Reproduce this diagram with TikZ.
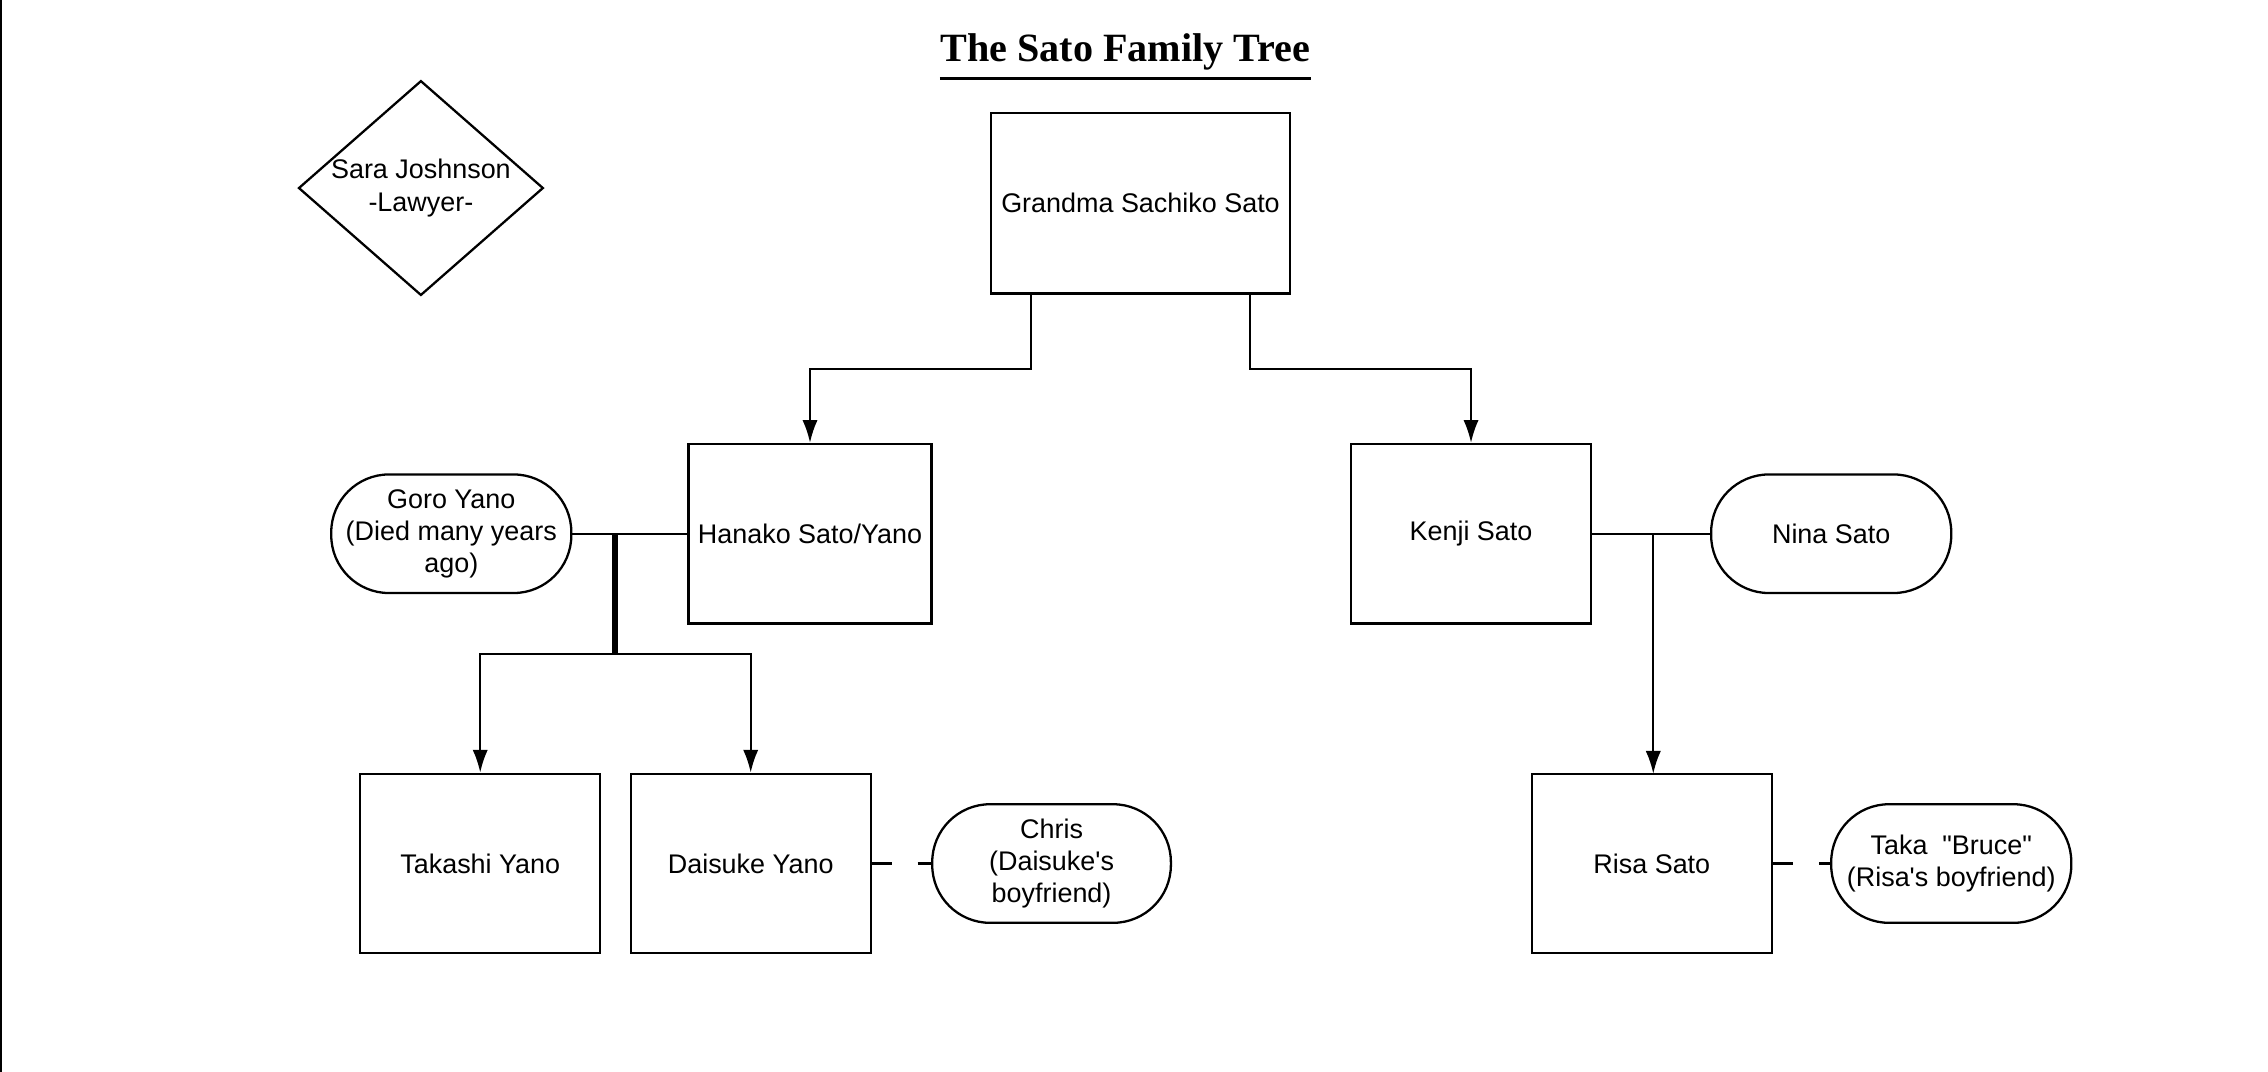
\documentclass[tikz,border=0pt]{standalone}
\usepackage{fontspec}
\setmainfont{Liberation Sans}[Ligatures=TeXOff]
\newfontfamily\titlefont{Liberation Serif}
\usetikzlibrary{shapes.geometric,arrows.meta}
\begin{document}
\begin{tikzpicture}[x=0.02cm,y=-0.02cm,
  font=\fontsize{10.6pt}{12.6pt}\selectfont,
  box/.style={draw,line width=0.9pt,inner sep=0pt,align=center},
  pill/.style={draw,line width=0.9pt,rounded corners=0.8cm,inner sep=0pt,align=center},
  link/.style={line width=0.9pt},
  arr/.style={line width=0.9pt,-{Latex[length=9pt,width=6pt]}},
  dsh/.style={line width=0.9pt,dash pattern=on 8pt off 10pt}]
\useasboundingbox (0,0) rectangle (1568,741);
\draw[line width=0.8pt] (0.5,0) -- (0.5,741);
\node[font=\titlefont\bfseries\fontsize{15.8pt}{18pt}\selectfont,inner sep=0pt] (title) at (778,36) {The Sato Family Tree};
\draw[line width=1.3pt] ([yshift=-3pt]title.south west) -- ([yshift=-3pt]title.south east);
\node[draw,diamond,line width=0.9pt,minimum width=166*0.02cm,minimum height=146*0.02cm,inner sep=0pt,align=center,aspect=1.14] (sara) at (291,130) {Sara Joshnson\\-Lawyer-};
\node[box,minimum width=207*0.02cm,minimum height=125*0.02cm] (gm) at (788.5,140.5) {Grandma Sachiko Sato};
\node[box,minimum width=168*0.02cm,minimum height=124*0.02cm] (han) at (560,369) {Hanako Sato/Yano};
\node[box,minimum width=166*0.02cm,minimum height=124*0.02cm] (ken) at (1017,369) {Kenji Sato};
\node[pill,minimum width=166*0.02cm,minimum height=82*0.02cm] (goro) at (312,369) {Goro Yano\\(Died many years\\ago)};
\node[pill,minimum width=166*0.02cm,minimum height=82*0.02cm] (nina) at (1266,369) {Nina Sato};
\node[box,minimum width=166*0.02cm,minimum height=124*0.02cm] (tak) at (332,597) {Takashi Yano};
\node[box,minimum width=166*0.02cm,minimum height=124*0.02cm] (dai) at (519,597) {Daisuke Yano};
\node[pill,minimum width=165*0.02cm,minimum height=82*0.02cm] (chris) at (727,597) {Chris\\(Daisuke's\\boyfriend)};
\node[box,minimum width=166*0.02cm,minimum height=124*0.02cm] (risa) at (1142,597) {Risa Sato};
\node[pill,minimum width=166*0.02cm,minimum height=82*0.02cm] (taka) at (1349,597) {Taka\ \ "Bruce"\\(Risa's boyfriend)};
\coordinate (gl) at (713,203);
\coordinate (gr) at (864,203);
\draw[arr] (gl) -- (713,255) -| (han.north);
\draw[arr] (gr) -- (864,255) -| (ken.north);
\draw[link] (goro.east) -- (han.west);
\coordinate (gj) at (425,369);
\draw[line width=2.2pt] (gj) -- (425,452);
\draw[arr] (425,452) -| (tak.north);
\draw[arr] (425,452) -| (dai.north);
\draw[link] (ken.east) -- (nina.west);
\coordinate (kj) at (1143,369);
\draw[arr] (kj) -- (1143,535);
\draw[dsh] (dai.east) -- (chris.west);
\draw[dsh] (risa.east) -- (taka.west);
\end{tikzpicture}
\end{document}
